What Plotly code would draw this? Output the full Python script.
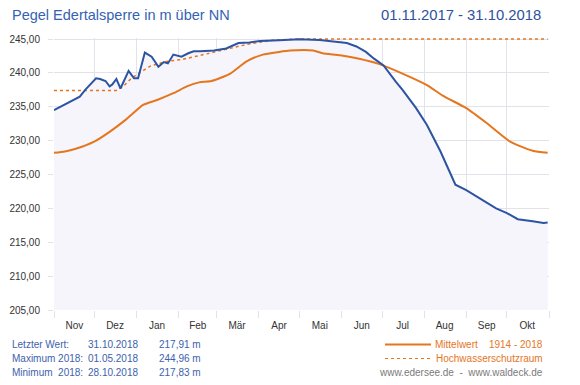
import plotly.graph_objects as go

# ---- data ----
level_dates = ["2017-11-01","2017-11-10","2017-11-20","2017-11-24","2017-11-27","2017-12-02","2017-12-05",
               "2017-12-09","2017-12-12","2017-12-14","2017-12-17","2017-12-20","2017-12-26","2017-12-30",
               "2018-01-02","2018-01-07","2018-01-12","2018-01-17","2018-01-21","2018-01-24","2018-01-28",
               "2018-02-03","2018-02-08","2018-02-12","2018-02-17","2018-02-27","2018-03-08","2018-03-17",
               "2018-03-25","2018-04-02","2018-04-16","2018-05-01","2018-05-16","2018-05-26","2018-06-05",
               "2018-06-12","2018-06-19","2018-06-25","2018-07-02","2018-07-11","2018-07-16","2018-07-26",
               "2018-08-03","2018-08-13","2018-08-19","2018-08-24","2018-09-01","2018-09-11","2018-09-23",
               "2018-10-01","2018-10-09","2018-10-20","2018-10-28","2018-10-31"]
level_values = [234.5,235.4,236.5,237.5,238.2,239.2,239.1,
                238.8,238.0,238.3,239.1,237.7,240.3,239.2,
                239.2,243.0,242.4,240.9,241.6,241.4,242.7,
                242.4,242.9,243.2,243.2,243.3,243.6,244.4,
                244.5,244.7,244.8,244.96,244.85,244.6,244.4,
                243.9,243.1,242.1,241.1,238.7,237.5,234.8,
                232.3,228.4,225.7,223.5,222.7,221.5,220.0,
                219.3,218.4,218.1,217.83,217.91]

mean_dates = ["2017-11-01","2017-11-09","2017-11-17","2017-12-01","2017-12-12","2017-12-24","2018-01-06",
              "2018-01-16","2018-01-28","2018-02-07","2018-02-16","2018-02-25","2018-03-11","2018-03-23",
              "2018-04-04","2018-04-16","2018-04-24","2018-05-11","2018-05-18","2018-05-31","2018-06-14",
              "2018-06-29","2018-07-16","2018-08-03","2018-08-15","2018-09-01","2018-09-16","2018-10-03",
              "2018-10-20","2018-10-31"]
mean_values = [228.2,228.4,228.8,229.9,231.3,233.1,235.3,
               236.0,237.0,238.0,238.6,238.8,239.9,241.7,
               242.7,243.1,243.3,243.3,242.9,242.6,242.1,
               241.3,239.9,238.2,236.6,234.8,232.6,229.9,
               228.5,228.2]

flood_dates = ["2017-11-01","2017-12-17","2017-12-22","2017-12-28","2018-01-03","2018-01-11","2018-01-23",
               "2018-02-04","2018-02-17","2018-02-27","2018-03-11","2018-03-23","2018-04-12","2018-05-01",
               "2018-10-31"]
flood_values = [237.4,237.4,238.0,239.2,240.0,241.0,241.7,
                242.0,242.6,243.1,243.7,244.2,244.85,245.0,
                245.0]

month_mid = ["2017-11-16","2017-12-16","2018-01-16","2018-02-15","2018-03-16","2018-04-16",
             "2018-05-16","2018-06-16","2018-07-16","2018-08-16","2018-09-16","2018-10-16"]
month_labels = ["Nov","Dez","Jan","Feb","Mär","Apr","Mai","Jun","Jul","Aug","Sep","Okt"]
y_ticks = [205,210,215,220,225,230,235,240,245]

info_rows = [("Letzter Wert:", "31.10.2018", "217,91 m"),
             ("Maximum 2018:", "01.05.2018", "244,96 m"),
             ("Minimum&nbsp;&nbsp;2018:", "28.10.2018", "217,83 m")]

BLUE = "#2c54a3"
ORANGE = "#e5761e"
TXT_BLUE = "#3d62ab"
GRID = "#e2e2ea"
FONT = "Liberation Sans, Arial, sans-serif"

fig = go.Figure()
fig.add_trace(go.Scatter(x=level_dates, y=level_values, mode="lines", fill="tozeroy",
                         fillcolor="#f5f5fb", line=dict(color="rgba(0,0,0,0)", width=0),
                         hoverinfo="skip", showlegend=False))
fig.add_trace(go.Scatter(x=flood_dates, y=flood_values, mode="lines",
                         line=dict(color=ORANGE, width=1.5, dash="dot"), showlegend=False))
fig.add_trace(go.Scatter(x=mean_dates, y=mean_values, mode="lines", line_shape="spline",
                         line=dict(color=ORANGE, width=2, smoothing=0.6), showlegend=False))
fig.add_trace(go.Scatter(x=level_dates, y=level_values, mode="lines",
                         line=dict(color=BLUE, width=2), showlegend=False))

# page body has an 8px margin: figure origin sits at (8, 8) in the window
OFF = 8
FW, FH = 580 - OFF, 385 - OFF
# plot area in window px: x 54..549, y 38..310
L, R, T, B = 54, 549, 38, 310
W, H = R - L, B - T
def px(X): return (X - L) / W
def py(Y): return (B - Y) / H

ann = []
ann.append(dict(text="Pegel Edertalsperre in m über NN", x=px(10), y=py(15), xanchor="left", yanchor="middle",
                font=dict(size=14.5, color="#3463b3", family=FONT)))
ann.append(dict(text="01.11.2017 - 31.10.2018", x=px(543), y=py(15), xanchor="right", yanchor="middle",
                font=dict(size=14.8, color="#2d52a0", family=FONT)))
for i, (a, b, c) in enumerate(info_rows):
    yy = py(344.5 + 14 * i)
    ann.append(dict(text=a, x=px(10), y=yy, xanchor="left", yanchor="middle",
                    font=dict(size=10, color=TXT_BLUE, family=FONT)))
    ann.append(dict(text=b, x=px(86), y=yy, xanchor="left", yanchor="middle",
                    font=dict(size=10, color=TXT_BLUE, family=FONT)))
    ann.append(dict(text=c, x=px(203), y=yy, xanchor="right", yanchor="middle",
                    font=dict(size=10, color=TXT_BLUE, family=FONT)))
ann.append(dict(text="Mittelwert&nbsp;&nbsp;&nbsp;&nbsp;1914 - 2018", x=px(545), y=py(344.5), xanchor="right", yanchor="middle",
                font=dict(size=10, color=ORANGE, family=FONT)))
ann.append(dict(text="Hochwasserschutzraum", x=px(545), y=py(358.5), xanchor="right", yanchor="middle",
                font=dict(size=10, color=ORANGE, family=FONT)))
ann.append(dict(text="www.edersee.de&nbsp;&nbsp;-&nbsp;&nbsp;www.waldeck.de", x=px(545), y=py(372.5), xanchor="right", yanchor="middle",
                font=dict(size=10, color="#7a7a7a", family=FONT)))
for a in ann:
    a.update(xref="paper", yref="paper", showarrow=False)

shapes = [
    dict(type="line", xref="paper", yref="paper", x0=px(385), x1=px(431), y0=py(344.5), y1=py(344.5),
         line=dict(color=ORANGE, width=2)),
    dict(type="line", xref="paper", yref="paper", x0=px(385), x1=px(431), y0=py(358.5), y1=py(358.5),
         line=dict(color=ORANGE, width=1.2, dash="dot")),
]

fig.update_layout(
    width=FW, height=FH,
    margin=dict(l=L - OFF, r=580 - R, t=T - OFF, b=385 - B, pad=0, autoexpand=False),
    paper_bgcolor="white", plot_bgcolor="white",
    separators=",.",
    font=dict(family=FONT, size=10, color="#333333"),
    annotations=ann, shapes=shapes,
    showlegend=False,
    xaxis=dict(type="date", range=["2017-11-01", "2018-11-01"], automargin=False,
               tickmode="array", tickvals=month_mid, ticktext=month_labels,
               showgrid=False, ticks="", zeroline=False, showline=False,
               tickfont=dict(size=10, color="#333333"), ticklabelstandoff=8,
               minor=dict(tickmode="linear", tick0="2017-11-01", dtick="M1", showgrid=True,
                          gridcolor=GRID, gridwidth=1, ticks="outside", ticklen=7, tickcolor=GRID)),
    yaxis=dict(range=[205, 245.15], tickmode="array", tickvals=y_ticks, tickformat=".2f", automargin=False,
               showgrid=True, gridcolor=GRID, gridwidth=1, zeroline=False, showline=False,
               ticks="outside", ticklen=5, tickcolor=GRID, ticklabelstandoff=6,
               tickfont=dict(size=10, color="#333333")),
)

fig.write_html("out.html")
